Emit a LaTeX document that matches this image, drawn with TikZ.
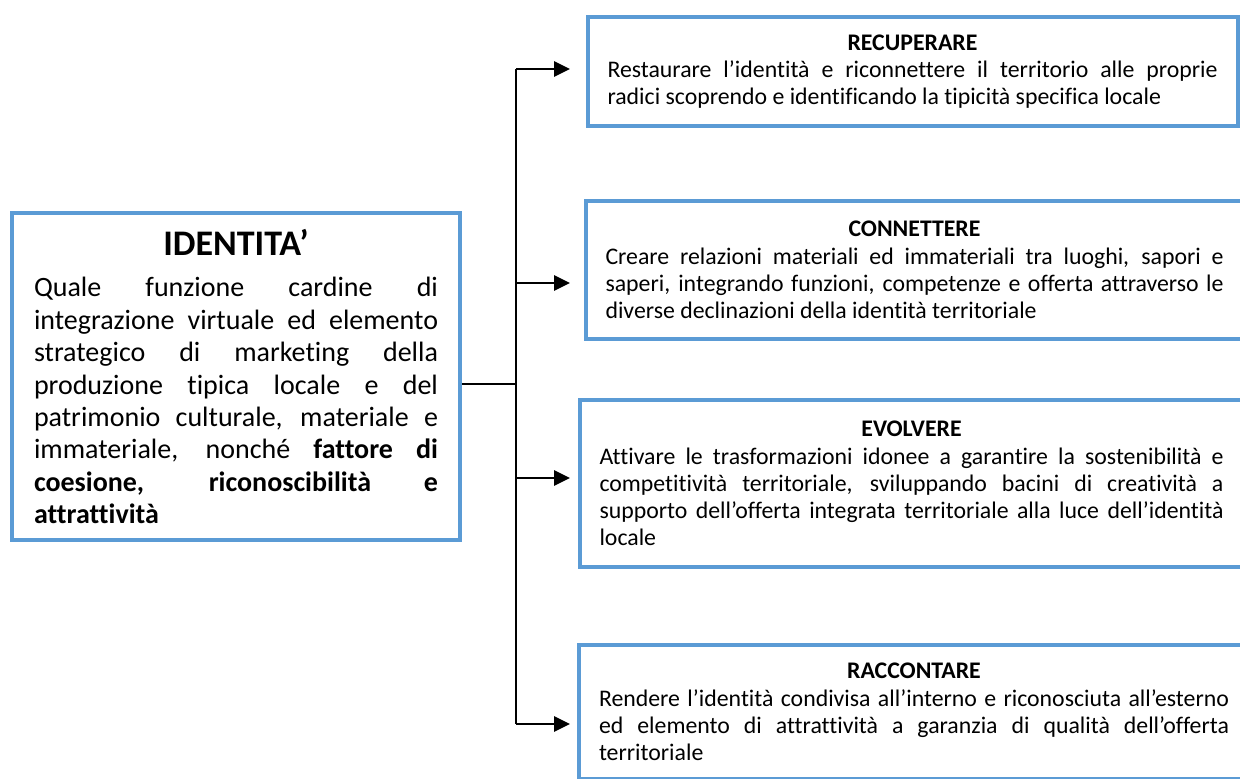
\documentclass[tikz,border=0pt]{standalone}
\usepackage{fontspec}
\setmainfont{Carlito}[Ligatures=NoCommon]
\usetikzlibrary{arrows.meta}
\definecolor{boxblue}{HTML}{5B9BD5}
\tikzset{
  frame/.style={draw=boxblue, line width=2pt, inner ysep=0pt, inner xsep=10pt, anchor=west},
  link/.style={line width=0.8pt},
  arr/.style={line width=1.4pt, -{Triangle[length=8pt,width=7.5pt]}}
}
\newcommand{\azione}[3]{\parbox{#1}{\fontsize{11.9}{13.6}\selectfont\hyphenpenalty=10000
  {\centering\bfseries #2\par}#3}}
\begin{document}
\begin{tikzpicture}[x=0.5pt,y=-0.5pt]
\useasboundingbox (0,0) rectangle (1240,778);
\clip (0,0) rectangle (1240,778);
\node[frame, inner xsep=11pt, minimum height=163.5pt, anchor=center] (id) at (236,376.5)
  {\parbox{202pt}{\fontsize{14}{16.2}\selectfont\hyphenpenalty=10000
  {\fontsize{18}{22}\selectfont\bfseries\centering IDENTITA’\par}\vspace{4.5pt}
  Quale funzione cardine di\linebreak integrazione virtuale ed elemento\linebreak
  strategico di marketing della\linebreak produzione tipica locale e del\linebreak
  patrimonio culturale, materiale e\linebreak immateriale, nonché \textbf{fattore di\linebreak
  coesione, riconoscibilità e\linebreak attrattività}}};
\node[frame, minimum height=54.5pt] (b1) at (585.5,71.5)
  {\azione{305pt}{RECUPERARE}{Restaurare l’identità e riconnettere il territorio alle proprie\linebreak
  radici scoprendo e identificando la tipicità specifica locale}};
\node[frame, minimum height=69pt] (b2) at (583.5,270)
  {\azione{309pt}{CONNETTERE}{Creare relazioni materiali ed immateriali tra luoghi, sapori e\linebreak
  saperi, integrando funzioni, competenze e offerta attraverso le\linebreak
  diverse declinazioni della identità territoriale}\hspace{30pt}};
\node[frame, minimum height=83.5pt] (b3) at (577.5,483.5)
  {\azione{312pt}{EVOLVERE}{Attivare le trasformazioni idonee a garantire la sostenibilità e\linebreak
  competitività territoriale, sviluppando bacini di creatività a\linebreak
  supporto dell’offerta integrata territoriale alla luce dell’identità\linebreak
  locale}\hspace{30pt}};
\node[frame, minimum height=67pt] (b4) at (577,712)
  {\azione{315pt}{RACCONTARE}{Rendere l’identità condivisa all’interno e riconosciuta all’esterno\linebreak
  ed elemento di attrattività a garanzia di qualità dell’offerta\linebreak
  territoriale}\hspace{30pt}};
\coordinate (split) at (516,384);
\draw[link] (id.east |- split) -- (split);
\foreach \y/\n in {69/1,283/2,478/3,724/4}{
  \coordinate (j\n) at (516,\y);
  \coordinate (t\n) at (570,\y);
  \draw[arr] (j\n) -- (t\n);
}
\draw[link] (j1) -- (j4);
\end{tikzpicture}
\end{document}
